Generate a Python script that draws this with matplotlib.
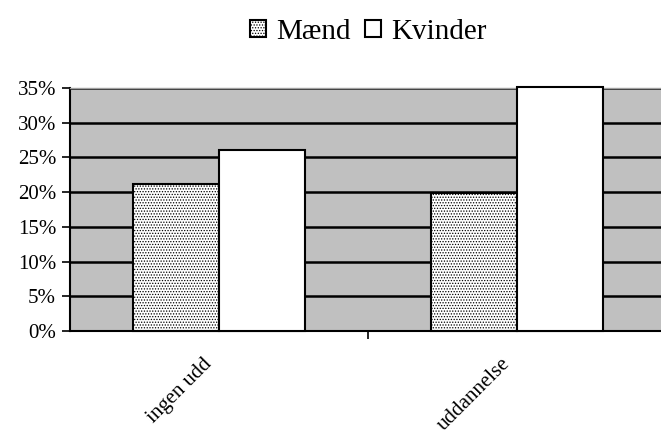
import numpy as np
import matplotlib
matplotlib.use("Agg")
import matplotlib.pyplot as plt
from matplotlib.ticker import FuncFormatter

plt.rcParams['font.family'] = ['Liberation Serif', 'DejaVu Serif']
plt.rcParams['hatch.color'] = '#b4b4b4'
plt.rcParams['hatch.linewidth'] = 0.6

categories = ["ingen udd", "uddannelse"]
maend = [21.2, 19.9]
kvinder = [26.0, 35.2]
yticks = [0, 5, 10, 15, 20, 25, 30, 35]

fig = plt.figure(figsize=(6.61, 4.30), dpi=100)
ax = fig.add_axes([70 / 661, 99 / 430, 596 / 661, 243 / 430])
ax.set_facecolor('#c0c0c0')

x = np.arange(len(categories))
w = 0.288
b1 = ax.bar(x - w / 2, maend, w, facecolor='white', edgecolor='black',
            linewidth=1.5, hatch='......', label='Mænd', zorder=3, clip_on=False)
b2 = ax.bar(x + w / 2, kvinder, w, facecolor='white', edgecolor='black',
            linewidth=1.5, label='Kvinder', zorder=3, clip_on=False)

ax.set_ylim(0, 35)
ax.set_xlim(-0.5, 1.5)
ax.set_yticks(yticks)
ax.yaxis.set_major_formatter(FuncFormatter(lambda v, p: f"{v:.0f}%"))
ax.grid(axis='y', color='black', linewidth=1.8, zorder=1)
ax.set_axisbelow(True)

ax.set_xticks([0.5])
ax.set_xticklabels([''])
for xi, lab in zip(x, categories):
    ax.text(xi - 0.055, -3.4, lab, rotation=45, ha='right', va='top',
            rotation_mode='anchor', fontsize=15)

ax.tick_params(axis='y', direction='out', length=6, width=1.2, labelsize=15, pad=4)
ax.tick_params(axis='x', direction='out', length=6, width=1.2)
for s in ['left', 'bottom']:
    ax.spines[s].set_color('black')
    ax.spines[s].set_linewidth(1.5)
ax.spines['top'].set_color('#a0a0a0')
ax.spines['top'].set_linewidth(1)
ax.spines['right'].set_visible(False)

fig.legend(handles=[b1, b2], labels=['Mænd', 'Kvinder'], loc='center',
           bbox_to_anchor=(368 / 661, 1 - 32 / 430), ncol=2, frameon=False,
           fontsize=21, handlelength=0.55, handleheight=0.55,
           handletextpad=0.35, columnspacing=0.5)

fig.savefig('out.png', dpi=100)
